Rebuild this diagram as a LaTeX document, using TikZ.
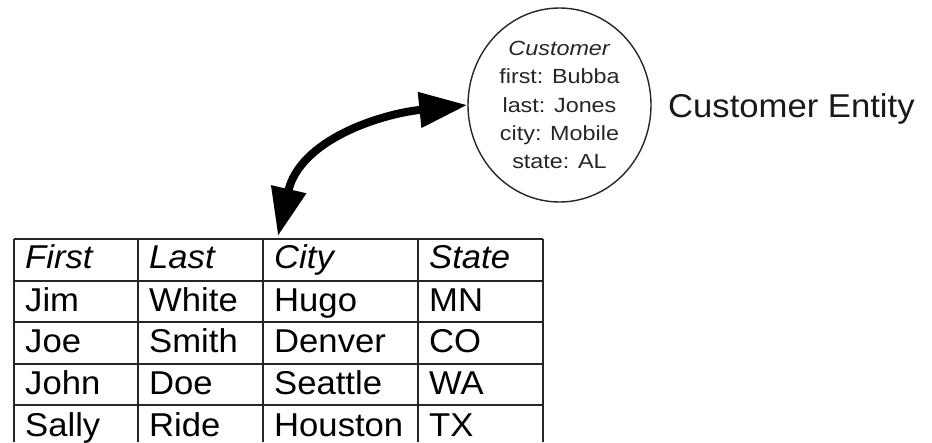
\documentclass[tikz,border=0pt]{standalone}
\usepackage{fontspec}
\setmainfont{Liberation Sans}[FakeStretch=1.05]
\newfontfamily\entfont{Liberation Sans}[FakeStretch=1.14]
\usetikzlibrary{arrows.meta,shapes.geometric}

\begin{document}
\begin{tikzpicture}[x=1pt,y=-1pt,
  gridline/.style={draw=black!85, line width=1.4pt},
  cell/.style={anchor=base west, inner sep=0pt, font=\fontsize{33}{36}\selectfont},
  headcell/.style={cell, font=\fontsize{33}{36}\selectfont\itshape},
  entity/.style={ellipse, draw=black!85, line width=1.4pt,
    minimum width=183pt, minimum height=194pt, inner sep=0pt,
    align=center, text=black!85,
    font=\entfont\fontsize{20.5}{28.3}\selectfont},
  label/.style={anchor=base west, inner sep=0pt, text=black!90,
    font=\fontsize{33}{36}\selectfont},
  link/.style={line width=8pt,
    {Triangle[length=48pt,width=34pt]}-{Triangle[length=48pt,width=34pt]}}
]
\useasboundingbox (0,0) rectangle (932,442);

% entity bubble
\node[entity] (ent) at (559.5,105)
  {\textit{Customer}\\first: Bubba\\last: Jones\\city: Mobile\\state: AL};
\node[label] (entname) at (668,117) {Customer Entity};

% table grid (open at the bottom)
\foreach \y in {239,281,322,364,405}
  \draw[gridline] (14,\y) -- (543,\y);
\foreach \x in {14,138,263,418,543}
  \draw[gridline] (\x,239) -- (\x,442);

% header row
\node[headcell] (h1) at (25,268)  {First};
\node[headcell] (h2) at (149,268) {Last};
\node[headcell] (h3) at (274,268) {City};
\node[headcell] (h4) at (429,268) {State};

% data rows
\foreach \r/\yy/\a/\b/\c/\d in {
    1/311/Jim/White/Hugo/MN,
    2/352/Joe/Smith/Denver/CO,
    3/394/John/Doe/Seattle/WA,
    4/436/Sally/Ride/Houston/TX}{
  \node[cell] (r\r c1) at (25,\yy)  {\a};
  \node[cell] (r\r c2) at (149,\yy) {\b};
  \node[cell] (r\r c3) at (274,\yy) {\c};
  \node[cell] (r\r c4) at (429,\yy) {\d};
}

% mapping arrow between the table and the entity
\coordinate (dock) at (278,236);
\draw[link] (dock) .. controls (300,140) and (380,114) .. (ent.west);
\end{tikzpicture}
\end{document}
